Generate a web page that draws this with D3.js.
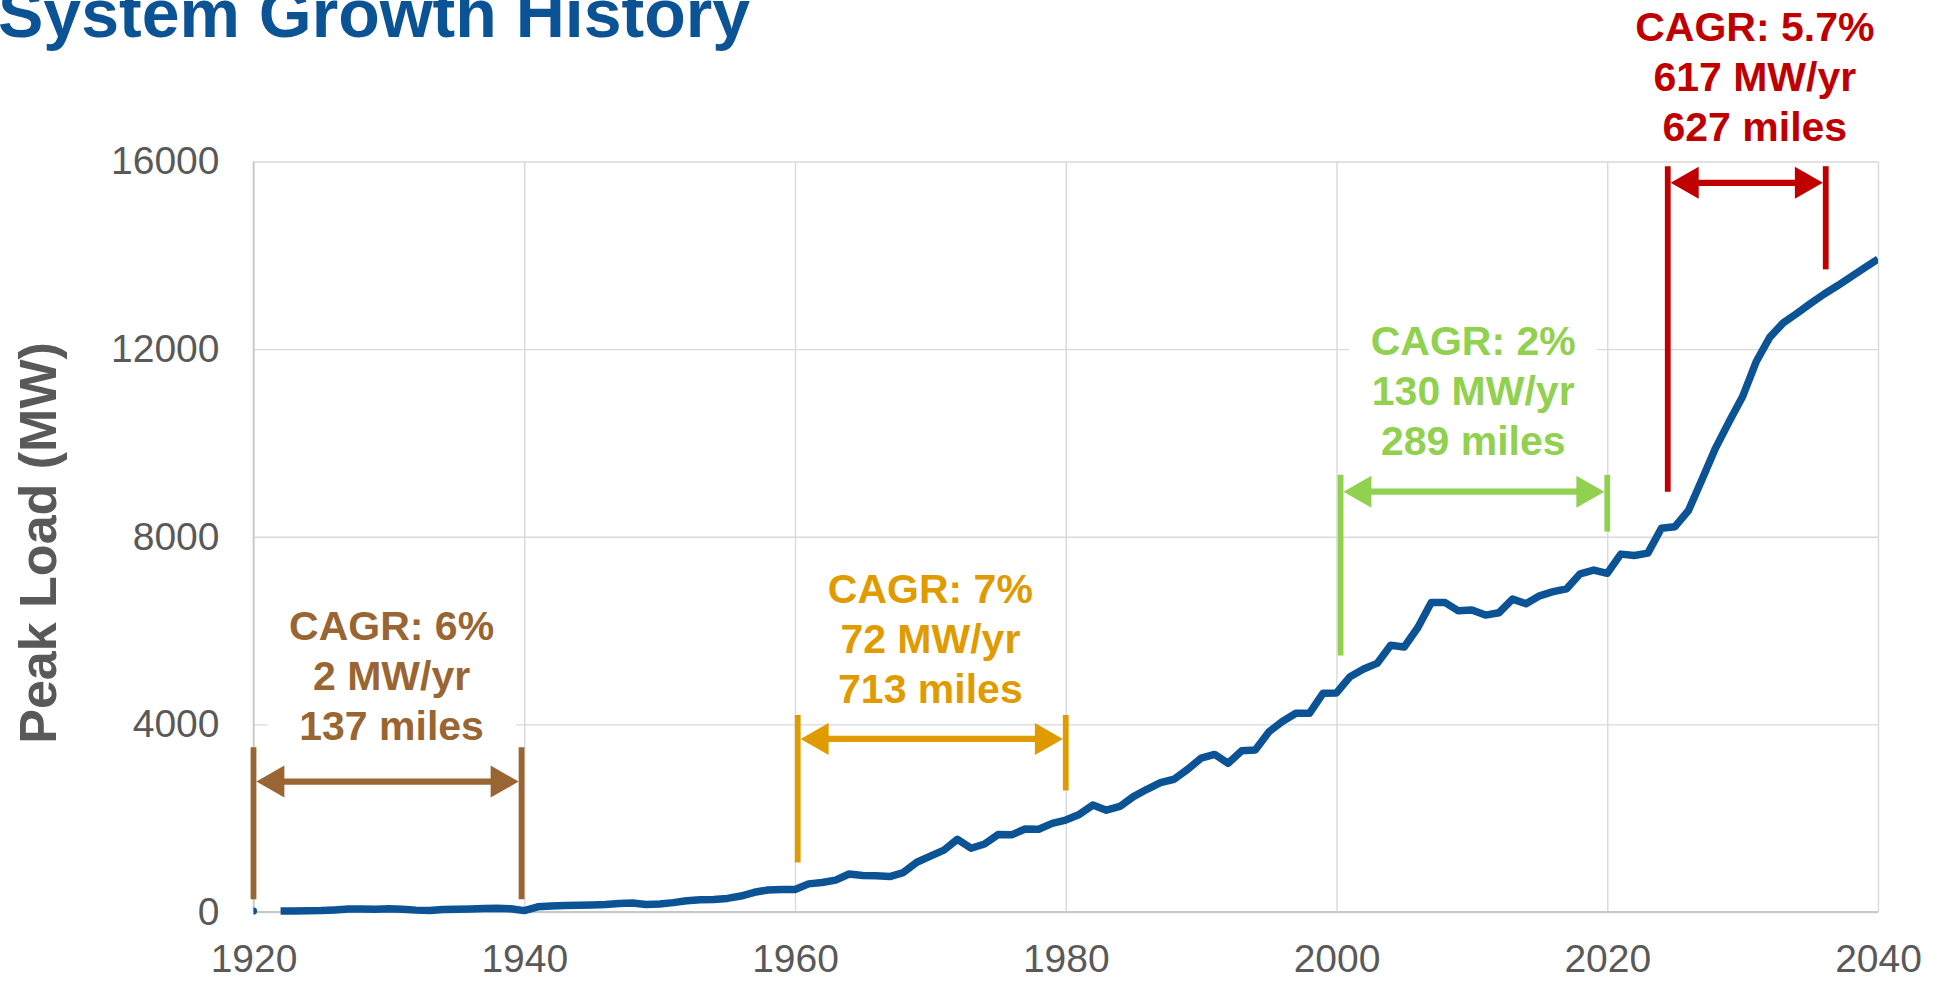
<!DOCTYPE html>
<html>
<head>
<meta charset="utf-8">
<script src="https://cdn.jsdelivr.net/npm/d3@7"></script>
<style>
body { margin: 0; background: #fff; }
text { font-family: "Liberation Sans", Arial, sans-serif; }
</style>
</head>
<body>
<div id="chart"></div>
<script>
// peak load by year, 1920..2040 (1921 missing)
var peakLoad = [
  20, null, 20, 22, 25, 30, 45, 62, 65, 60,
  70, 60, 40, 30, 55, 60, 65, 72, 78, 70,
  30, 110, 130, 140, 145, 150, 160, 180, 190, 160,
  170, 200, 240, 260, 265, 290, 340, 420, 470, 480,
  480, 600, 630, 680, 810, 780, 775, 755, 840, 1060,
  1190, 1320, 1550, 1360, 1450, 1650, 1645, 1770, 1765, 1890,
  1960, 2080, 2280, 2170, 2250, 2460, 2616, 2757, 2830, 3040,
  3280, 3360, 3170, 3440, 3455, 3840, 4060, 4236, 4236, 4663,
  4670, 5017, 5180, 5300, 5685, 5650, 6060, 6600, 6600, 6420,
  6440, 6330, 6380, 6670, 6570, 6740, 6830, 6890, 7210, 7290,
  7220, 7630, 7600, 7650, 8180, 8215, 8560, 9220, 9890, 10450,
  10990, 11730, 12250, 12560, 12760, 12970, 13170, 13350, 13540, 13730,
  13920
];
var firstYear = 1920;

var xTicks = [1920, 1940, 1960, 1980, 2000, 2020, 2040];
var yTicks = [0, 4000, 8000, 12000, 16000];

// growth period annotations
var spanLabels = [
  ["CAGR: 6%", "2 MW/yr", "137 miles"],
  ["CAGR: 7%", "72 MW/yr", "713 miles"],
  ["CAGR: 2%", "130 MW/yr", "289 miles"],
  ["CAGR: 5.7%", "617 MW/yr", "627 miles"]
];
var spanStart = [1920, 1960.2, 2000.3, 2024.47];
var spanEnd = [1939.8, 1980, 2020, 2036.14];
var spanTop = [3510, 4200, 9320, 15900];
var spanLeftBottom = [270, 1055, 5470, 8960];
var spanRightBottom = [270, 2590, 8110, 13700];
var spanArrow = [2780, 3690, 8960, 15545];
var labelYear = [1930.2, 1970, 2010.1, 2030.9];
var labelValue = [5800, 6590, 11880, 18570];
var labelBoxed = [true, false, true, false];

var spanColors = ["#996633", "#df9b00", "#92d050", "#c00000"];
var lineColor = "#0b5394";

var svgWidth = 1948;
var svgHeight = 982;
var margin = { top: 161.5, right: 70, bottom: 70, left: 253.5 };
var width = svgWidth - margin.left - margin.right;
var height = svgHeight - margin.top - margin.bottom;

var data = peakLoad.map(function(v, i) {
  return { year: firstYear + i, load: v };
});

var svg = d3.select("#chart")
  .append("svg")
  .attr("width", svgWidth)
  .attr("height", svgHeight);

var chartGroup = svg.append("g")
  .attr("transform", `translate(${margin.left}, ${margin.top})`);

var x = d3.scaleLinear()
  .domain([1920, 2040])
  .range([0, width]);

var y = d3.scaleLinear()
  .domain([0, 16000])
  .range([height, 0]);

// gridlines + tick labels
var leftAxis = d3.axisLeft(y)
  .tickValues(yTicks)
  .tickSize(-width)
  .tickPadding(34)
  .tickFormat(d3.format("d"));

var bottomAxis = d3.axisBottom(x)
  .tickValues(xTicks)
  .tickSize(-height)
  .tickPadding(32)
  .tickFormat(d3.format("d"));

var yAxisG = chartGroup.append("g").call(leftAxis);
var xAxisG = chartGroup.append("g")
  .attr("transform", `translate(0, ${height})`)
  .call(bottomAxis);

[yAxisG, xAxisG].forEach(function(g) {
  g.select(".domain").remove();
  g.selectAll(".tick line")
    .attr("stroke", "#d9d9d9")
    .attr("stroke-width", 1.4);
  g.selectAll(".tick text")
    .attr("fill", "#595959")
    .attr("font-size", "39px");
});

// axis lines
chartGroup.append("line")
  .attr("x1", 0).attr("x2", width)
  .attr("y1", height).attr("y2", height)
  .attr("stroke", "#c8c8c8")
  .attr("stroke-width", 2);
chartGroup.append("line")
  .attr("x1", 0).attr("x2", 0)
  .attr("y1", 0).attr("y2", height)
  .attr("stroke", "#c8c8c8")
  .attr("stroke-width", 1.6);

var lineHeight = 50;
var fontSize = 41;

// white boxes behind the labels that sit on gridlines
spanLabels.forEach(function(lines, i) {
  if (!labelBoxed[i]) return;
  var cx = x(labelYear[i]);
  var top = y(labelValue[i]) - 42;
  var bottom = y(labelValue[i]) + (lines.length - 1) * lineHeight + 12;
  chartGroup.append("rect")
    .attr("x", cx - 124)
    .attr("y", top)
    .attr("width", 248)
    .attr("height", bottom - top)
    .attr("fill", "#fff");
});

// brackets with double arrows
var headLen = 28, headHalf = 16, barW = 5.8;
spanLabels.forEach(function(lines, i) {
  var c = spanColors[i];
  var x0 = x(spanStart[i]);
  var x1 = x(spanEnd[i]);
  var ya = y(spanArrow[i]);

  chartGroup.append("line")
    .attr("x1", x0).attr("x2", x0)
    .attr("y1", y(spanTop[i])).attr("y2", y(spanLeftBottom[i]))
    .attr("stroke", c).attr("stroke-width", barW);
  chartGroup.append("line")
    .attr("x1", x1).attr("x2", x1)
    .attr("y1", y(spanTop[i])).attr("y2", y(spanRightBottom[i]))
    .attr("stroke", c).attr("stroke-width", barW);

  var tipL = x0 + barW / 2;
  var tipR = x1 - barW / 2;
  chartGroup.append("line")
    .attr("x1", tipL + headLen - 2).attr("x2", tipR - headLen + 2)
    .attr("y1", ya).attr("y2", ya)
    .attr("stroke", c).attr("stroke-width", 6.3);
  chartGroup.append("path")
    .attr("d", `M${tipL},${ya} L${tipL + headLen},${ya - headHalf} L${tipL + headLen},${ya + headHalf} Z`)
    .attr("fill", c);
  chartGroup.append("path")
    .attr("d", `M${tipR},${ya} L${tipR - headLen},${ya - headHalf} L${tipR - headLen},${ya + headHalf} Z`)
    .attr("fill", c);
});

// peak load line
chartGroup.append("clipPath")
  .attr("id", "plotClip")
  .append("rect")
  .attr("x", 0).attr("y", -margin.top)
  .attr("width", width).attr("height", svgHeight);

var loadLine = d3.line()
  .defined(d => d.load != null)
  .x(d => x(d.year))
  .y(d => y(d.load));

var plot = chartGroup.append("g").attr("clip-path", "url(#plotClip)");

plot.append("path")
  .datum(data)
  .attr("d", loadLine)
  .attr("fill", "none")
  .attr("stroke", lineColor)
  .attr("stroke-width", 7.5)
  .attr("stroke-linejoin", "round");

// lone points (no neighbours) drawn as dots
var lone = data.filter(function(d, i) {
  var prev = data[i - 1], next = data[i + 1];
  return d.load != null && (!prev || prev.load == null) && (!next || next.load == null);
});
plot.selectAll(".lone")
  .data(lone)
  .enter()
  .append("circle")
  .attr("cx", d => x(d.year))
  .attr("cy", d => y(d.load))
  .attr("r", 3.6)
  .attr("fill", lineColor);

// annotation texts
spanLabels.forEach(function(lines, i) {
  var t = chartGroup.append("text")
    .attr("text-anchor", "middle")
    .attr("font-size", fontSize + "px")
    .attr("font-weight", "bold")
    .attr("fill", spanColors[i]);
  lines.forEach(function(s, j) {
    t.append("tspan")
      .attr("x", x(labelYear[i]))
      .attr("y", y(labelValue[i]) + j * lineHeight)
      .text(s);
  });
});

// titles
svg.append("text")
  .attr("x", -2)
  .attr("y", 37)
  .attr("font-size", "68px")
  .attr("font-weight", "bold")
  .attr("fill", lineColor)
  .text("System Growth History");

svg.append("text")
  .attr("transform", "translate(56, 543) rotate(-90)")
  .attr("text-anchor", "middle")
  .attr("font-size", "52px")
  .attr("font-weight", "bold")
  .attr("fill", "#595959")
  .text("Peak Load (MW)");
</script>
</body>
</html>
